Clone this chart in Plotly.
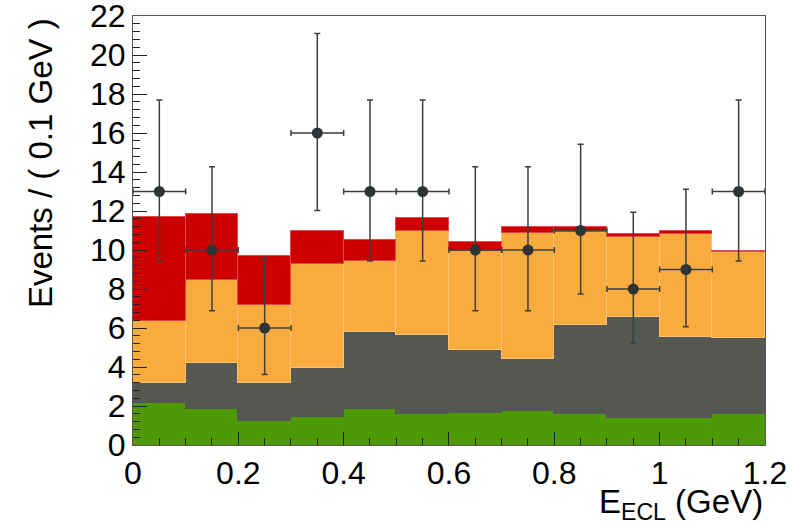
import plotly.graph_objects as go

# bin centres (GeV), bin width 0.1
bin_centers = [0.05, 0.15, 0.25, 0.35, 0.45, 0.55, 0.65, 0.75, 0.85, 0.95, 1.05, 1.15]
bin_width = 0.1

# cumulative stack tops
green_top  = [2.17, 1.83, 1.23, 1.44, 1.83, 1.58, 1.66, 1.75, 1.58, 1.40, 1.40, 1.58]
gray_top   = [3.20, 4.20, 3.20, 3.94, 5.77, 5.64, 4.87, 4.39, 6.17, 6.55, 5.55, 5.47]
orange_top = [6.38, 8.47, 7.18, 9.29, 9.46, 10.95, 9.94, 10.88, 10.92, 10.66, 10.83, 9.89]
red_top    = [11.69, 11.86, 9.67, 11.00, 10.49, 11.65, 10.40, 11.20, 11.20, 10.80, 10.97, 9.97]

# data points with asymmetric (Poisson) errors
data_y   = [13, 10, 6, 16, 13, 13, 10, 10, 11, 8, 9, 13]
err_up   = [4.69, 4.27, 3.58, 5.10, 4.69, 4.69, 4.27, 4.27, 4.42, 3.94, 4.11, 4.69]
err_down = [3.56, 3.11, 2.38, 3.97, 3.56, 3.56, 3.11, 3.11, 3.26, 2.77, 2.94, 3.56]

layers = [
    ("green", green_top, [0] * 12, "#4e9a06", "#4e9a06"),
    ("gray", gray_top, green_top, "#555753", "#555753"),
    ("orange", orange_top, gray_top, "#f9ab3e", "#fbc070"),
    ("red", red_top, orange_top, "#cc0000", "#e04a4a"),
]

fig = go.Figure()
for name, top, base, col, lcol in layers:
    fig.add_trace(go.Bar(
        x=bin_centers,
        y=[t - b for t, b in zip(top, base)],
        width=bin_width,
        marker=dict(color=col, line=dict(color=lcol, width=1)),
        name=name,
        showlegend=False,
    ))

fig.add_trace(go.Scatter(
    x=bin_centers, y=data_y, mode="markers",
    marker=dict(color="#2e3436", size=11),
    error_y=dict(type="data", symmetric=False, array=err_up, arrayminus=err_down,
                 color="#3a3f40", thickness=1.5, width=3),
    error_x=dict(type="constant", value=bin_width / 2, color="#3a3f40", thickness=1.5, width=3),
    showlegend=False,
))

font = dict(family="Liberation Sans, Arial, sans-serif", size=32, color="black")
title_font = dict(family="Liberation Sans, Arial, sans-serif", size=33, color="black")

fig.update_layout(
    width=792, height=526,
    margin=dict(l=133, r=27, t=16, b=81, autoexpand=False),
    paper_bgcolor="white", plot_bgcolor="white",
    barmode="stack", bargap=0,
    font=font,
    xaxis=dict(
        range=[0, 1.2001], dtick=0.2, tick0=0, automargin=False,
        ticklabeloverflow="allow",
        ticks="inside", ticklen=13, tickwidth=1, tickcolor="#222",
        minor=dict(ticks="inside", dtick=0.05, ticklen=7, tickcolor="#222"),
        showline=True, linecolor="#555", linewidth=1, mirror=True,
        showgrid=False, zeroline=False, tickfont=font,
    ),
    yaxis=dict(
        range=[0, 22.001], dtick=2, tick0=0, automargin=False,
        ticklabeloverflow="allow",
        ticks="inside", ticklen=14, tickwidth=1, tickcolor="#222",
        minor=dict(ticks="inside", dtick=0.4, ticklen=7, tickcolor="#222"),
        showline=True, linecolor="#555", linewidth=1, mirror=True,
        showgrid=False, zeroline=False, tickfont=font,
    ),
    annotations=[
        dict(text="E<sub>ECL</sub> (GeV)", xref="paper", yref="paper",
             x=1.0, y=-0.084, xanchor="right", yanchor="top",
             showarrow=False, font=title_font),
        dict(text="Events / ( 0.1 GeV )", xref="paper", yref="paper",
             x=-0.147, y=1.0, xanchor="center", yanchor="top", textangle=-90,
             showarrow=False, font=title_font),
    ],
)

fig.write_html("out.html")
